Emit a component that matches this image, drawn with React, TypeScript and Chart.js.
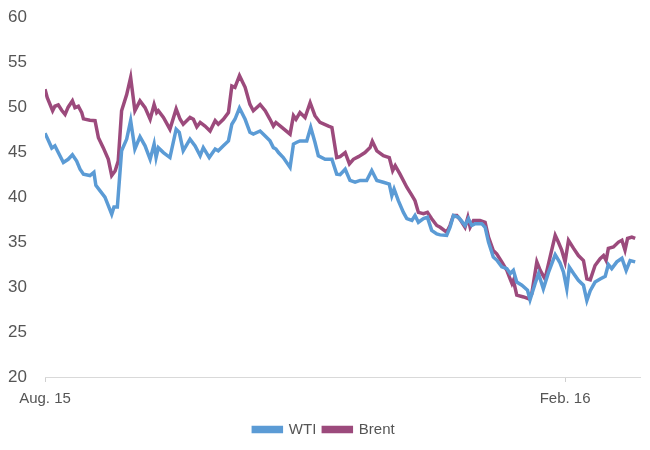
import React, { useEffect, useRef } from "react";
import { Chart, registerables } from "chart.js";

Chart.register(...registerables);

// x values: days since Aug 1, 2015
const brentDays = [0, 0.8, 2.7, 3.5, 4.7, 5.9, 7.1, 8.2, 9.7, 10.6, 11.8, 13.0, 13.6, 15.9, 17.7, 18.9, 20.6, 22.4, 23.6, 24.8, 25.9, 27.1, 28.9, 30.3, 31.8, 33.6, 35.4, 37.2, 38.6, 39.5, 40.1, 41.9, 44.2, 46.4, 47.8, 48.9, 51.3, 52.5, 53.7, 54.9, 56.6, 58.4, 60.2, 61.3, 63.1, 64.9, 66.1, 67.2, 68.8, 70.8, 72.5, 73.7, 76.1, 77.9, 79.6, 80.8, 81.7, 83.8, 86.7, 87.9, 88.8, 90.2, 92.0, 93.8, 95.5, 97.3, 100.3, 101.5, 103.2, 104.4, 106.2, 107.7, 109.1, 110.9, 113.2, 115.0, 115.8, 117.4, 119.7, 121.8, 123.0, 123.9, 125.6, 128.0, 129.8, 130.9, 132.1, 133.9, 135.3, 136.8, 138.6, 139.8, 142.1, 143.3, 144.5, 145.7, 147.1, 148.6, 149.6, 150.4, 151.6, 153.9, 155.7, 156.9, 158.6, 159.8, 161.6, 163.4, 164.3, 165.2, 165.7, 166.9, 169.3, 171.0, 172.2, 174.0, 175.2, 176.9, 178.7, 180.5, 181.6, 182.8, 184.0, 185.2, 187.0, 188.7, 190.5, 191.7, 192.9, 194.6, 196.4, 197.6, 198.5, 199.3, 201.1, 202.9, 204.1, 205.2, 206.1, 207.6, 208.8];
const brentValues = [52.0, 51.06, 49.6, 50.1, 50.25, 49.65, 49.2, 50.0, 50.7, 49.95, 50.1, 49.4, 48.7, 48.55, 48.5, 46.6, 45.5, 44.2, 42.4, 42.9, 44.0, 49.6, 51.4, 53.3, 49.6, 50.7, 49.95, 48.65, 50.3, 49.4, 49.6, 48.85, 47.55, 49.8, 48.65, 48.1, 48.85, 48.65, 47.8, 48.3, 47.9, 47.35, 48.5, 48.1, 48.65, 49.4, 52.35, 52.2, 53.5, 52.2, 50.3, 49.6, 50.3, 49.6, 48.65, 47.9, 48.3, 47.75, 47.0, 49.05, 48.65, 49.4, 48.85, 50.5, 49.05, 48.3, 47.9, 47.75, 44.4, 44.5, 44.95, 43.7, 44.2, 44.5, 44.95, 45.5, 46.2, 45.15, 44.6, 44.4, 42.95, 43.5, 42.55, 41.1, 40.2, 39.6, 38.3, 38.15, 38.3, 37.6, 36.85, 36.65, 36.1, 36.85, 37.95, 37.95, 37.4, 36.65, 37.75, 36.65, 37.4, 37.4, 37.2, 35.55, 34.05, 33.7, 32.8, 31.85, 31.1, 30.4, 30.75, 29.1, 28.9, 28.7, 29.25, 32.8, 31.85, 30.9, 33.35, 35.75, 35.0, 34.1, 32.8, 35.2, 34.3, 33.5, 32.95, 30.9, 30.8, 32.4, 33.15, 33.5, 32.95, 34.3, 34.45, 35.0, 35.2, 34.1, 35.4, 35.55, 35.4];

const wtiDays = [0, 1.2, 2.4, 3.5, 4.7, 6.5, 8.2, 9.7, 11.2, 12.4, 13.6, 15.9, 17.3, 18.0, 19.5, 21.2, 22.4, 23.6, 24.4, 25.6, 27.1, 28.9, 30.3, 31.8, 33.6, 35.4, 37.2, 38.6, 39.3, 40.1, 41.9, 44.2, 46.4, 47.5, 48.9, 51.3, 53.1, 54.9, 56.0, 58.1, 60.2, 61.3, 63.1, 64.9, 66.1, 67.2, 68.8, 70.8, 72.5, 73.7, 76.1, 77.9, 79.6, 80.8, 81.7, 82.6, 84.3, 86.7, 87.9, 89.1, 90.2, 92.6, 94.0, 95.5, 96.7, 99.1, 101.5, 103.2, 104.4, 106.2, 107.9, 109.7, 111.5, 113.8, 115.6, 117.4, 119.7, 121.8, 122.7, 123.5, 125.0, 126.8, 128.0, 129.8, 130.9, 132.1, 133.9, 135.3, 136.8, 138.6, 139.8, 142.1, 143.3, 144.5, 146.3, 148.6, 149.8, 151.0, 152.2, 154.5, 155.7, 156.9, 158.6, 159.8, 161.6, 163.4, 164.6, 165.7, 166.9, 168.7, 170.7, 171.6, 173.4, 174.6, 176.3, 178.1, 180.5, 182.2, 183.4, 184.6, 185.5, 187.0, 188.7, 190.5, 191.7, 192.9, 194.6, 196.4, 198.2, 199.3, 200.5, 202.3, 204.1, 205.6, 207.0, 208.8];
const wtiValues = [47.1, 46.3, 45.45, 45.7, 44.95, 43.85, 44.2, 44.7, 44.0, 43.1, 42.55, 42.4, 42.75, 41.3, 40.7, 40.0, 39.05, 38.1, 38.9, 38.9, 45.15, 46.45, 48.5, 45.35, 46.7, 45.7, 44.2, 45.9, 44.4, 45.5, 44.95, 44.4, 47.55, 47.2, 45.15, 46.45, 45.7, 44.6, 45.5, 44.4, 45.35, 45.15, 45.7, 46.25, 48.1, 48.65, 49.9, 48.65, 47.2, 47.0, 47.35, 46.8, 46.25, 45.5, 45.35, 44.95, 44.4, 43.3, 45.9, 46.1, 46.25, 46.25, 47.75, 46.1, 44.6, 44.2, 44.2, 42.55, 42.5, 43.1, 41.85, 41.65, 41.85, 41.85, 42.95, 41.85, 41.65, 41.45, 40.15, 40.9, 39.6, 38.3, 37.6, 37.4, 37.95, 37.2, 37.6, 37.75, 36.3, 35.9, 35.8, 35.75, 36.65, 37.95, 37.75, 36.85, 37.6, 36.85, 37.05, 37.05, 36.65, 35.0, 33.35, 33.0, 32.25, 32.05, 31.5, 31.85, 30.55, 30.2, 29.65, 28.6, 30.4, 31.5, 29.8, 31.6, 33.6, 32.7, 31.7, 29.8, 32.2, 31.5, 30.75, 30.2, 28.5, 29.6, 30.55, 30.9, 31.2, 32.5, 32.05, 32.8, 33.2, 31.85, 32.95, 32.8];

const xTickValues = [0, 184];
const xTickLabels = ["Aug. 15", "Feb. 16"];
const yMin = 20;
const yMax = 60;
const yStep = 5;
const xMax = 210.5;

const WTI_COLOR = "#5b9bd5";
const BRENT_COLOR = "#9c4a7c";
const FONT = "'Liberation Sans', Arial, sans-serif";

export default function App() {
  const ref = useRef<HTMLCanvasElement>(null);
  useEffect(() => {
    if (!ref.current) return;
    const chart = new Chart(ref.current, {
      type: "line",
      data: {
        datasets: [
          {
            label: "WTI",
            data: wtiDays.map((d, i) => ({ x: d, y: wtiValues[i] })),
            borderColor: WTI_COLOR,
            backgroundColor: WTI_COLOR,
            borderWidth: 3.5,
            pointRadius: 0,
            tension: 0,
          },
          {
            label: "Brent",
            data: brentDays.map((d, i) => ({ x: d, y: brentValues[i] })),
            borderColor: BRENT_COLOR,
            backgroundColor: BRENT_COLOR,
            borderWidth: 3.5,
            pointRadius: 0,
            tension: 0,
          },
        ],
      },
      options: {
        animation: false,
        responsive: false,
        layout: { padding: { left: 8, right: 10, top: 0, bottom: 3 } },
        scales: {
          x: {
            type: "linear",
            min: 0,
            max: xMax,
            afterBuildTicks: (s: any) => {
              s.ticks = xTickValues.map((v) => ({ value: v }));
            },
            ticks: {
              autoSkip: false,
              maxRotation: 0,
              color: "#555",
              font: { family: FONT, size: 15, lineHeight: 1 },
              padding: 9,
              callback: (v: any) => {
                const i = xTickValues.indexOf(Number(v));
                return i >= 0 ? xTickLabels[i] : "";
              },
            },
            grid: {
              display: true,
              drawOnChartArea: false,
              drawTicks: true,
              tickLength: 5,
              color: "#d0d0d0",
            },
            border: { display: true, color: "#d9d9d9", width: 1 },
          },
          y: {
            min: yMin,
            max: yMax,
            ticks: {
              stepSize: yStep,
              color: "#555",
              font: { family: FONT, size: 17 },
              padding: 7,
              crossAlign: "far",
            },
            grid: { display: false, drawTicks: false },
            border: { display: false },
            afterFit: (s: any) => {
              s.width = 37;
            },
          },
        },
        plugins: {
          legend: {
            position: "bottom",
            labels: {
              boxWidth: 28,
              boxHeight: 4,
              color: "#555",
              font: { family: FONT, size: 15 },
              padding: 7,
            },
          },
          tooltip: { enabled: false },
        },
      },
    });
    return () => chart.destroy();
  }, []);
  return (
    <div style={{ position: "fixed", left: 0, top: 0, width: 650, height: 450, background: "#fff" }}>
      <canvas ref={ref} width={650} height={450} />
    </div>
  );
}
